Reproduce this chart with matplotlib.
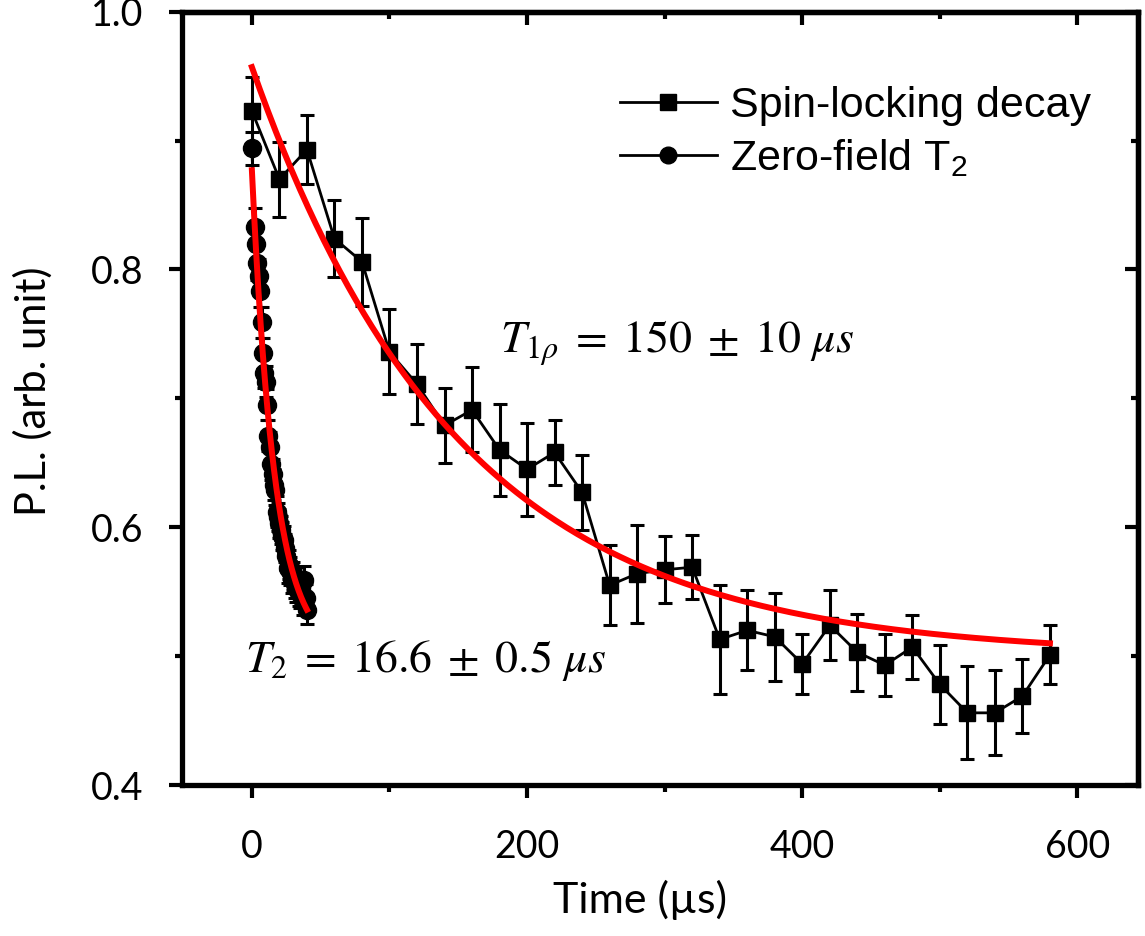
import numpy as np
import matplotlib
matplotlib.use("Agg")
import matplotlib.pyplot as plt
from matplotlib.lines import Line2D
from matplotlib.ticker import MultipleLocator

# ---------------------------------------------------- #
#                        Data                          #
# ---------------------------------------------------- #

# spin-locking decay (squares)
sl_time = [0, 20, 40, 60, 80, 100, 120, 140, 160, 180, 200, 220, 240, 260, 280,
           300, 320, 340, 360, 380, 400, 420, 440, 460, 480, 500, 520, 540, 560, 580]
sl_pl = [0.923, 0.870, 0.893, 0.824, 0.806, 0.736, 0.711, 0.679, 0.691, 0.660,
         0.645, 0.658, 0.627, 0.555, 0.564, 0.567, 0.569, 0.513, 0.520, 0.515,
         0.494, 0.524, 0.503, 0.493, 0.507, 0.478, 0.456, 0.456, 0.469, 0.501]
sl_err = [0.026, 0.029, 0.027, 0.030, 0.034, 0.033, 0.031, 0.029, 0.033, 0.036,
          0.036, 0.025, 0.029, 0.031, 0.038, 0.026, 0.025, 0.042, 0.031, 0.034,
          0.023, 0.027, 0.030, 0.024, 0.025, 0.031, 0.036, 0.033, 0.029, 0.023]

# zero-field T2 (circles)
zf_time = [0, 2, 3, 4, 5, 6, 7, 8, 9, 10, 11, 12, 13, 14, 15, 16, 17, 18, 19, 20,
           21, 22, 23, 24, 25, 26, 27, 28, 29, 30, 31, 32, 33, 34, 35, 36, 37, 38, 39, 40]
zf_pl = [0.894, 0.833, 0.820, 0.805, 0.795, 0.783, 0.759, 0.735, 0.720, 0.713,
         0.695, 0.671, 0.662, 0.649, 0.641, 0.633, 0.629, 0.612, 0.608, 0.603,
         0.598, 0.593, 0.590, 0.584, 0.578, 0.568, 0.571, 0.566, 0.560, 0.562,
         0.556, 0.553, 0.558, 0.550, 0.548, 0.553, 0.543, 0.559, 0.545, 0.536]
zf_err = [0.013, 0.015, 0.014, 0.013, 0.013, 0.012, 0.012, 0.012, 0.012, 0.012,
          0.012, 0.012, 0.012, 0.012, 0.012, 0.012, 0.012, 0.012, 0.011, 0.011,
          0.011, 0.011, 0.011, 0.011, 0.011, 0.011, 0.011, 0.011, 0.011, 0.011,
          0.011, 0.011, 0.011, 0.011, 0.011, 0.011, 0.011, 0.011, 0.011, 0.011]

# exponential fits  A*exp(-t/T) + C
T1rho, T1rho_amp, T1rho_off, T1rho_tmax = 150.0, 0.4566, 0.5004, 580
T2, T2_amp, T2_off, T2_tmax = 16.6, 0.3746, 0.5024, 40

# ---------------------------------------------------- #
#                        Plot                          #
# ---------------------------------------------------- #
plt.rcParams['font.family'] = ['Lato', 'DejaVu Sans']

fig = plt.figure(figsize=(11.45, 9.36), dpi=100)
ax = fig.add_axes([0.1587, 0.1613, 0.9939 - 0.1587, 0.9875 - 0.1613])

ax.errorbar(zf_time, zf_pl, yerr=zf_err, color='black', marker='o', ms=13,
            lw=2.0, elinewidth=2.2, capsize=5.3, capthick=2.2, zorder=2)
ax.errorbar(sl_time, sl_pl, yerr=sl_err, color='black', marker='s', ms=12,
            lw=2.0, elinewidth=2.2, capsize=5.3, capthick=2.2, zorder=3)

t_fit1 = np.linspace(0, T1rho_tmax, 300)
ax.plot(t_fit1, T1rho_amp * np.exp(-t_fit1 / T1rho) + T1rho_off, color='#ff0000', lw=4.3, zorder=4)
t_fit2 = np.linspace(0, T2_tmax, 200)
ax.plot(t_fit2, T2_amp * np.exp(-t_fit2 / T2) + T2_off, color='#ff0000', lw=4.3, zorder=4)

ax.text(180, 0.7354, r'$T_{1\rho}\;=\;150\;\pm\;10\ \mu s$', fontsize=33, math_fontfamily='stix',
        ha='left', va='baseline')
ax.text(-5, 0.4877, r'$T_{2}\;=\;16.6\;\pm\;0.5\ \mu s$', fontsize=33, math_fontfamily='stix',
        ha='left', va='baseline')

ax.set_xlim(-51, 644)
ax.set_ylim(0.4, 1.0)
ax.xaxis.set_major_locator(MultipleLocator(200))
ax.xaxis.set_minor_locator(MultipleLocator(100))
ax.yaxis.set_major_locator(MultipleLocator(0.2))
ax.yaxis.set_minor_locator(MultipleLocator(0.1))
ax.yaxis.set_major_formatter(matplotlib.ticker.FormatStrFormatter('%.1f'))

for s in ax.spines.values():
    s.set_linewidth(3.8)
ax.tick_params(which='major', direction='out', length=9.4, width=3, labelsize=27)
ax.tick_params(which='minor', direction='out', length=5, width=3)
ax.tick_params(axis='y', which='major', pad=18)
ax.tick_params(axis='x', which='major', pad=22)

# inward ticks on top and right
top = ax.secondary_xaxis('top')
top.xaxis.set_major_locator(MultipleLocator(200))
top.xaxis.set_minor_locator(MultipleLocator(100))
top.tick_params(which='major', direction='in', length=9.4, width=3, labeltop=False)
top.tick_params(which='minor', direction='in', length=5, width=3)
top.spines['top'].set_linewidth(3.8)
right = ax.secondary_yaxis('right')
right.yaxis.set_major_locator(MultipleLocator(0.2))
right.yaxis.set_minor_locator(MultipleLocator(0.1))
right.tick_params(which='major', direction='in', length=9.4, width=3, labelright=False)
right.tick_params(which='minor', direction='in', length=5, width=3)
right.spines['right'].set_linewidth(3.8)

ax.set_xlabel('Time (\u00b5s)', fontsize=31)
ax.set_ylabel('P.L. (arb. unit)', fontsize=30)
ax.xaxis.set_label_coords(0.479, -0.122)
ax.yaxis.set_label_coords(-0.135, 0.5095)

handles = [Line2D([], [], color='black', lw=2.0, marker='s', ms=12),
           Line2D([], [], color='black', lw=2.0, marker='o', ms=12)]
labels = ['Spin-locking decay', r'Zero-field T$_\mathregular{2}$']
ax.legend(handles, labels, loc='upper left', bbox_to_anchor=(620 / 1145, 1 - 86 / 936),
          bbox_transform=fig.transFigure, frameon=False, borderpad=0, borderaxespad=0,
          handlelength=2.25, handletextpad=0.31, labelspacing=0.27,
          prop={'family': 'Liberation Sans', 'size': 31})

fig.savefig('out.png', dpi=100)
